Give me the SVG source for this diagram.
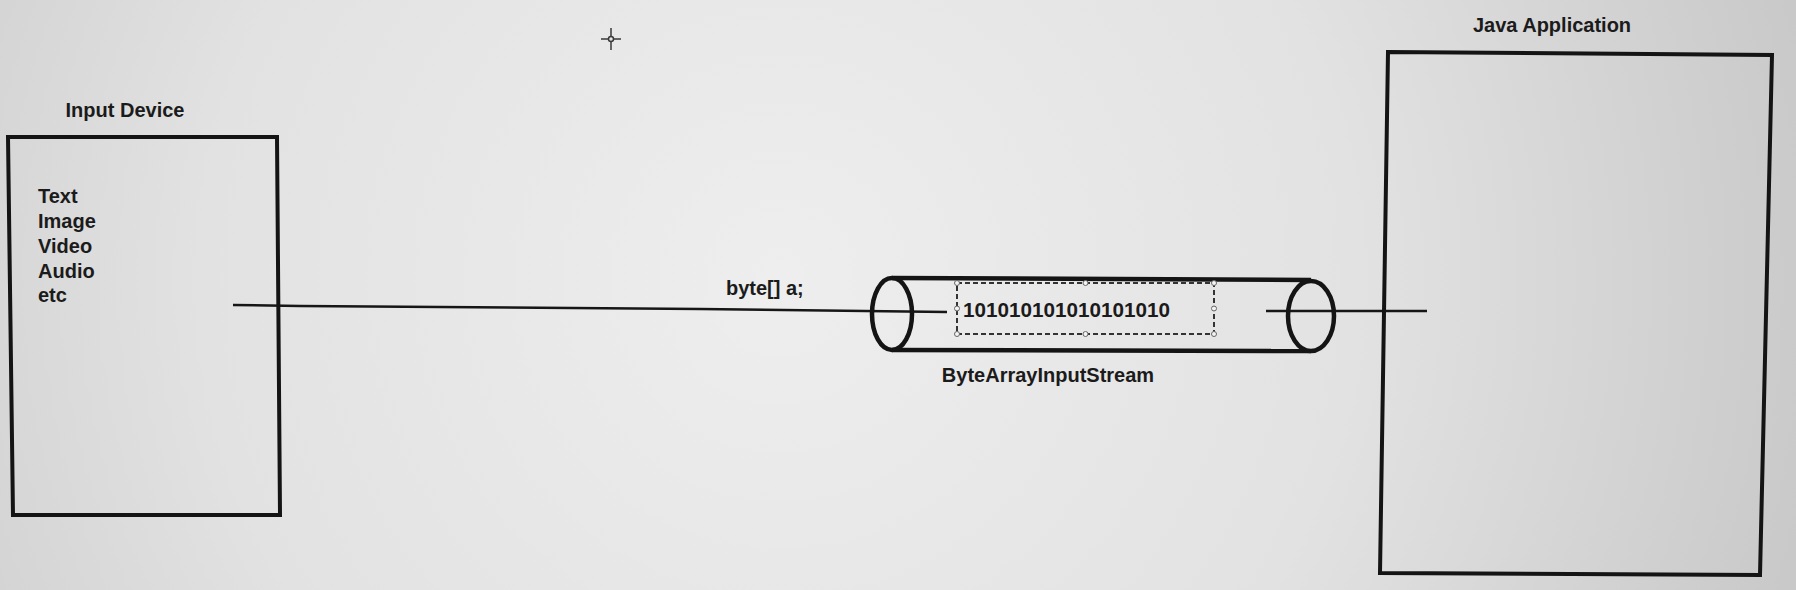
<svg xmlns="http://www.w3.org/2000/svg" width="1796" height="590" viewBox="0 0 1796 590">
<defs>
<radialGradient id="bg" cx="780" cy="280" r="1050" gradientUnits="userSpaceOnUse">
<stop offset="0" stop-color="#eeeeee"/>
<stop offset="0.55" stop-color="#e2e2e2"/>
<stop offset="1" stop-color="#c9c9c9"/>
</radialGradient>
<style>
.lbl{font-family:"Liberation Sans",Arial,sans-serif;font-weight:bold;font-size:20px;fill:#1b1b1b}
.box{fill:none;stroke:#141414;stroke-width:4;stroke-linejoin:miter}
.cyl{fill:none;stroke:#141414;stroke-width:4.5}
.wire{fill:none;stroke:#161616;stroke-width:2.5}
.sel{fill:none;stroke:#333;stroke-width:2;stroke-dasharray:5 3}
.hd{fill:#f4f4f4;stroke:#666;stroke-width:1}
</style>
</defs>
<rect width="1796" height="590" fill="url(#bg)"/>

<g id="connectors">
<polyline class="wire" points="233,305 300,306 700,309 947,312"/>
<line class="wire" x1="1266" y1="311" x2="1427" y2="311"/>
</g>

<g id="input-device">
<polygon class="box" points="8,137 277,137 280,515 13,515"/>
<text class="lbl" x="125" y="117" text-anchor="middle">Input Device</text>
<text class="lbl" x="38" y="203">Text</text>
<text class="lbl" x="38" y="228">Image</text>
<text class="lbl" x="38" y="253">Video</text>
<text class="lbl" x="38" y="278">Audio</text>
<text class="lbl" x="38" y="302">etc</text>
</g>

<g id="byte-array-label">
<text class="lbl" x="726" y="295">byte[] a;</text>
</g>

<g id="stream">
<line class="cyl" x1="892" y1="278" x2="1311" y2="280"/>
<line class="cyl" x1="892" y1="350" x2="1311" y2="351"/>
<ellipse class="cyl" cx="892" cy="314" rx="20" ry="36"/>
<ellipse class="cyl" cx="1311" cy="316" rx="23" ry="35"/>
<rect class="sel" x="957" y="283" width="257" height="51"/>
<circle class="hd" cx="957" cy="283" r="2.5"/>
<circle class="hd" cx="1085.5" cy="283" r="2.5"/>
<circle class="hd" cx="1214" cy="283" r="2.5"/>
<circle class="hd" cx="957" cy="308.5" r="2.5"/>
<circle class="hd" cx="1214" cy="308.5" r="2.5"/>
<circle class="hd" cx="957" cy="334" r="2.5"/>
<circle class="hd" cx="1085.5" cy="334" r="2.5"/>
<circle class="hd" cx="1214" cy="334" r="2.5"/>
<text class="lbl" x="963" y="317" textLength="207" lengthAdjust="spacingAndGlyphs">101010101010101010</text>
<text class="lbl" x="1048" y="382" text-anchor="middle">ByteArrayInputStream</text>
</g>

<g id="java-application">
<polygon class="box" points="1388,52 1772,55 1760,575 1380,573"/>
<text class="lbl" x="1552" y="32" text-anchor="middle">Java Application</text>
</g>

<g id="cursor" stroke="#3a3a3a" stroke-width="1.5" fill="none">
<line x1="601" y1="39" x2="608" y2="39"/>
<line x1="614" y1="39" x2="621" y2="39"/>
<line x1="611" y1="28" x2="611" y2="36"/>
<line x1="611" y1="42" x2="611" y2="50"/>
<circle cx="611" cy="39" r="2.5"/>
</g>
</svg>
